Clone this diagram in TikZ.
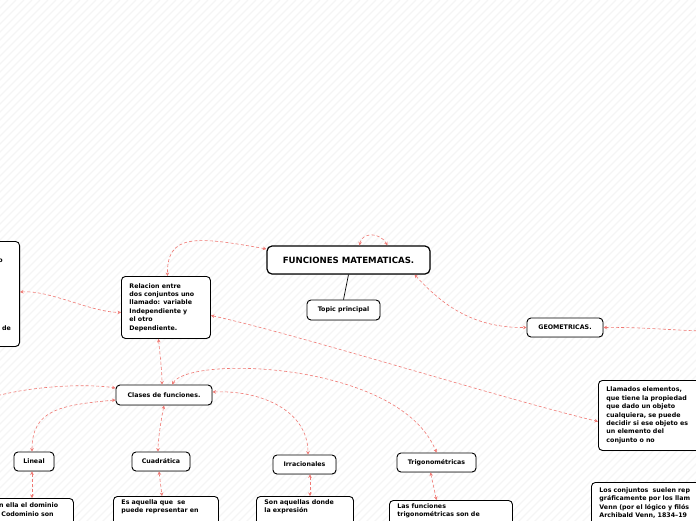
\documentclass[tikz,border=0pt]{standalone}
\usepackage{fontspec}
\setmainfont{DejaVu Sans}
\usepackage{tikz}
\usetikzlibrary{arrows.meta, shadows}

\definecolor{linkred}{RGB}{240,120,115}
\definecolor{hatch}{RGB}{245,245,245}

\begin{document}
\begin{tikzpicture}[
  x=1pt, y=-1pt,
  topic/.style={rectangle, rounded corners=4pt, draw=black, line width=0.9pt,
              fill=white, align=center, inner sep=0pt,
              font=\fontsize{6.3}{8.4}\selectfont\bfseries,
              drop shadow={shadow xshift=0.5pt, shadow yshift=-0.7pt, fill=gray!70}},
  maintopic/.style={topic, line width=1.2pt, rounded corners=5pt,
              font=\fontsize{8.6}{10}\selectfont\bfseries},
  textbox/.style={topic, align=left, anchor=north west, inner xsep=8pt,
              inner ysep=5pt},
  lowbox/.style={textbox, inner ysep=3pt, text depth=34pt,
              font=\fontsize{6.3}{8.2}\selectfont\bfseries},
  link/.style={draw=linkred, dashed, dash pattern=on 3pt off 2.2pt, line width=0.6pt,
              {Stealth[length=3.5pt, width=3.5pt]}-{Stealth[length=3.5pt, width=3.5pt]}},
  plain/.style={draw=black, line width=0.7pt}
]

\useasboundingbox (0,0) rectangle (696,520);
\clip (0,0) rectangle (696,520);

% background
\fill[white] (0,0) rectangle (696,520);
\foreach \k in {0,8,...,1232}
  \draw[hatch, line width=1.3pt] (\k-540,540) -- (\k,0);

% central topic
\node[maintopic, minimum width=163, minimum height=28] (main) at (348.5,260) {FUNCIONES MATEMATICAS.};
\node[topic, minimum width=73, minimum height=20] (tp) at (343.5,310) {Topic principal};
\draw[plain] (main.south) -- (tp.north);

% level one
\node[textbox, text width=73, minimum height=62] (rel) at (121,276)
  {Relacion entre\\dos conjuntos uno\\llamado: variable\\Independiente y\\el otro\\Dependiente.};
\node[topic, minimum width=76, minimum height=19] (geo) at (565,327.5) {GEOMETRICAS.};
\node[topic, anchor=north east, minimum width=130, minimum height=105] (lft) at (20,241) {};
\node[font=\fontsize{6.3}{8.4}\selectfont\bfseries, anchor=base east, inner sep=0pt] (lfta) at (3,262) {o};
\node[font=\fontsize{6.3}{8.4}\selectfont\bfseries, anchor=base east, inner sep=0pt] (lftb) at (11,330) {de};
\node[textbox, text width=110, minimum height=70] (elem) at (598,380)
  {Llamados elementos,\\que tiene la propiedad\\que dado un objeto\\cualquiera, se puede\\decidir si ese objeto es\\un elemento del\\conjunto o no};
\node[lowbox, text width=130, inner ysep=5pt, text depth=50pt,
      font=\fontsize{6.3}{8.4}\selectfont\bfseries] (venn) at (591,482)
  {Los conjuntos\ \ suelen rep\\gráficamente por los llam\\Venn (por el lógico y filós\\Archibald Venn, 1834--19};

% clases
\node[topic, minimum width=96, minimum height=20] (cls) at (164,395) {Clases de funciones.};
\node[topic, minimum width=40, minimum height=19] (lin) at (34,461.5) {Lineal};
\node[topic, minimum width=58, minimum height=19] (cua) at (161,461.5) {Cuadrática};
\node[topic, minimum width=63, minimum height=19] (irr) at (304.5,464.5) {Irracionales};
\node[topic, minimum width=79, minimum height=19] (tri) at (436.5,462.5) {Trigonométricas};

% descriptions
\node[topic, anchor=north west, minimum width=95, minimum height=40] (linbox) at (-22,498) {};
\node[font=\fontsize{6.3}{8.2}\selectfont\bfseries, align=left, anchor=north west, inner sep=0pt] (lintxt) at (-1,503)
  {n ella el dominio\\\ Codominio son};
\node[lowbox, text width=89] (cuabox) at (113,496) {Es aquella que\ \ se\\puede representar en};
\node[lowbox, text width=81] (irrbox) at (256,496) {Son aquellas donde\\la expresión};
\node[lowbox, text width=107] (tribox) at (389,500) {Las funciones\\trigonométricas son de};

% free ends
\coordinate (geoR) at (702,331);
\coordinate (clsL) at (-4,396);

% connectors
\draw[link] ([yshift=11pt]main.west) .. controls (195,236) and (167,234) .. ([xshift=1.5pt]rel.north);
\draw[link] ([xshift=11pt]main.north) .. controls (362,232) and (380,232) .. ([xshift=39pt]main.north);
\draw[link] ([xshift=66pt]main.south) .. controls (440,302) and (470,328) .. (geo.west);
\draw[link] (geo.east) .. controls (640,327) and (670,330) .. (geoR);
\draw[link] ([yshift=-51pt]lft.north east) .. controls (50,290) and (90,312) .. ([yshift=-5pt]rel.west);
\draw[link] ([yshift=-8pt]rel.east) .. controls (300,335) and (500,398) .. ([yshift=-6pt]elem.west);
\draw[link] ([xshift=-7.5pt]rel.south) .. controls (160,355) and (162,370) .. ([xshift=-2pt]cls.north);
\draw[link] ([xshift=8pt]cls.north) .. controls (190,355) and (400,362) .. (tri.north);
\draw[link] ([yshift=3pt]cls.east) .. controls (260,390) and (308,410) .. ([xshift=3.5pt]irr.north);
\draw[link] (clsL) .. controls (40,385) and (90,384) .. ([yshift=7pt]cls.west);
\draw[link] ([yshift=-5pt]cls.west) .. controls (60,405) and (32,410) .. ([xshift=-2pt]lin.north);
\draw[link] (cls.south) .. controls (161,420) and (158,440) .. ([xshift=-3pt]cua.north);
\draw[link] ([xshift=-2pt]lin.south) -- ([xshift=-2pt]lin.south |- linbox.north);
\draw[link] ([xshift=-2pt]cua.south) -- ([xshift=1pt]cua.south |- cuabox.north);
\draw[link] ([xshift=5.5pt]irr.south) -- ([xshift=5.5pt]irr.south |- irrbox.north);
\draw[link] ([xshift=-6pt]tri.south) -- ([xshift=0pt]tri.south |- tribox.north);

\end{tikzpicture}
\end{document}
